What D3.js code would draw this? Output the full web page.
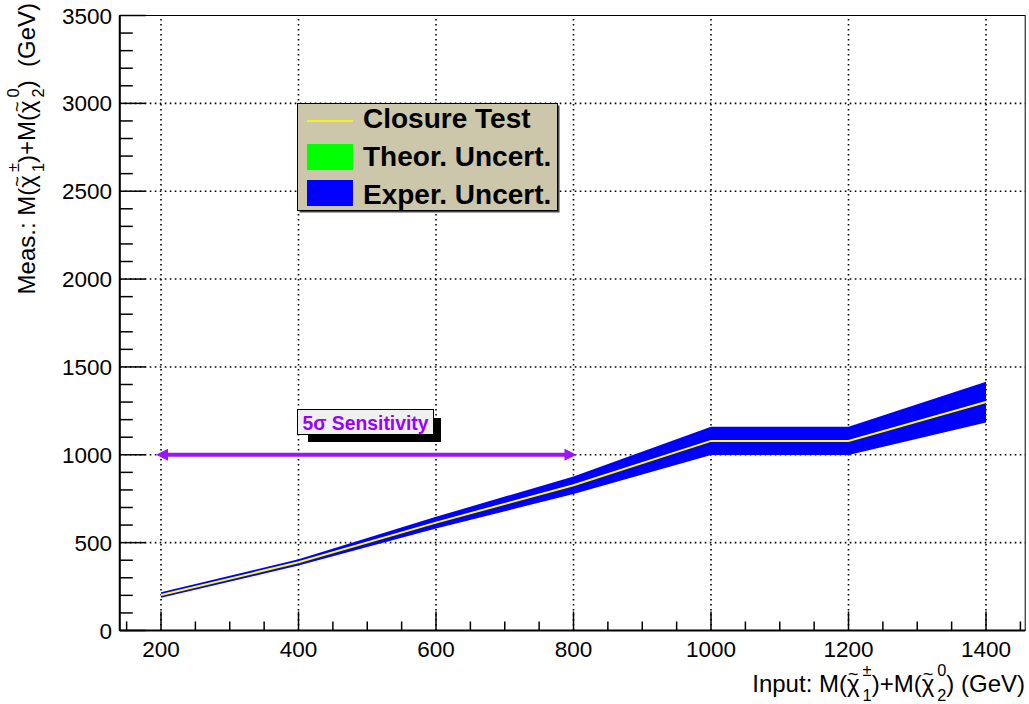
<!DOCTYPE html>
<html>
<head>
<meta charset="utf-8">
<script src="https://cdn.jsdelivr.net/npm/d3@7"></script>
<style>
  body { margin: 0; background: #fff; }
  text { font-family: "Liberation Sans", Arial, Helvetica, sans-serif; }
</style>
</head>
<body>
<script>
// input masses (GeV)
const inputMass = [200, 400, 600, 800, 1000, 1200, 1400];
// closure test: measured mass
const measMass = [202, 388, 614, 827, 1079, 1079, 1300];
// experimental uncertainty (half width)
const experUnc = [15, 18, 33, 50, 80, 80, 116];
// theoretical uncertainty (half width)
const theorUnc = [8, 10, 15, 22, 35, 35, 50];
// 5 sigma sensitivity range
const sensRange = [200, 800];
const sensLevel = 1000;

const xTicks = [200, 400, 600, 800, 1000, 1200, 1400];
const yTicks = [0, 500, 1000, 1500, 2000, 2500, 3000, 3500];
const legendLabels = ["Closure Test", "Theor. Uncert.", "Exper. Uncert."];

init();

function init() {
  let width = 1029, height = 704;
  let svg = d3.select("body").append("svg")
              .attr("width", width)
              .attr("height", height);

  let x = d3.scaleLinear().domain([140, 1457]).range([119.75, 1025.2]);
  let y = d3.scaleLinear().domain([0, 3500]).range([630.5, 15.5]);

  let data = inputMass.map((m, i) => ({m: m, v: measMass[i], e: experUnc[i], t: theorUnc[i]}));

  // grid
  let grid = svg.append("g").attr("stroke", "#000").attr("stroke-width", 1.6)
                .attr("stroke-dasharray", "1.6,3.4");
  xTicks.forEach(t => {
    grid.append("line").attr("x1", x(t)).attr("x2", x(t)).attr("y1", y(0)).attr("y2", y(3500));
  });
  yTicks.slice(1, -1).forEach(t => {
    grid.append("line").attr("x1", x(140)).attr("x2", x(1457)).attr("y1", y(t)).attr("y2", y(t));
  });

  // bands
  let area = (key) => d3.area().x(d => x(d.m)).y0(d => y(d.v - d[key])).y1(d => y(d.v + d[key]));
  svg.append("path").datum(data).attr("d", area("e")).attr("fill", "#0000ff");
  svg.append("path").datum(data).attr("d", area("t")).attr("fill", "#00ff00").attr("opacity", 0);
  svg.append("path").datum(data)
     .attr("d", d3.line().x(d => x(d.m)).y(d => y(d.v)))
     .attr("fill", "none").attr("stroke", "#ffff00").attr("stroke-width", 2);

  // frame
  svg.append("rect").attr("x", x(140)).attr("y", y(3500))
     .attr("width", x(1457) - x(140)).attr("height", y(0) - y(3500))
     .attr("fill", "none").attr("stroke", "#000").attr("stroke-width", 1);
  svg.append("line").attr("x1", x(140)).attr("x2", x(1457)).attr("y1", y(0)).attr("y2", y(0))
     .attr("stroke", "#000").attr("stroke-width", 2);
  svg.append("line").attr("x1", x(140)).attr("x2", x(140)).attr("y1", y(0)).attr("y2", y(3500))
     .attr("stroke", "#000").attr("stroke-width", 2);

  // axes with inward ticks
  let ax = svg.append("g").attr("stroke", "#000").attr("stroke-width", 1.5);
  d3.range(0, 3501, 100).forEach(t => {
    let len = (t % 500 === 0) ? 26 : 13;
    ax.append("line").attr("x1", x(140)).attr("x2", x(140) + len).attr("y1", y(t)).attr("y2", y(t));
  });
  d3.range(150, 1451, 50).forEach(t => {
    let len = (t % 200 === 0) ? 19 : 9;
    ax.append("line").attr("x1", x(t)).attr("x2", x(t)).attr("y1", y(0)).attr("y2", y(0) - len);
  });

  svg.append("g").selectAll("text").data(yTicks).join("text")
     .attr("x", 112).attr("y", d => y(d) + 8)
     .attr("text-anchor", "end").attr("font-size", 22.5).text(d => d);
  svg.append("g").selectAll("text").data(xTicks).join("text")
     .attr("x", d => x(d)).attr("y", 657)
     .attr("text-anchor", "middle").attr("font-size", 22.5).text(d => d);

  // axis titles
  let xg = svg.append("g");
  let wx = chiTitle(xg, "Input: ", " (GeV)", 24);
  xg.attr("transform", `translate(${1025 - wx},692)`);
  let yg = svg.append("g");
  let wy = chiTitle(yg, "Meas.: ", "  (GeV)", 24);
  yg.attr("transform", `translate(35,${3 + wy}) rotate(-90)`);

  // sensitivity arrow
  let sy = y(sensLevel), sx0 = x(sensRange[0]) - 5, sx1 = x(sensRange[1]) + 3;
  let purple = "#9a14ff";
  svg.append("line").attr("x1", sx0 + 8).attr("x2", sx1 - 8).attr("y1", sy).attr("y2", sy)
     .attr("stroke", purple).attr("stroke-width", 4);
  svg.append("path").attr("d", `M${sx0},${sy}L${sx0 + 12},${sy - 6}L${sx0 + 12},${sy + 6}Z`).attr("fill", purple);
  svg.append("path").attr("d", `M${sx1},${sy}L${sx1 - 12},${sy - 6}L${sx1 - 12},${sy + 6}Z`).attr("fill", purple);

  // sensitivity label box
  svg.append("rect").attr("x", 308).attr("y", 418).attr("width", 133).attr("height", 24).attr("fill", "#000");
  svg.append("rect").attr("x", 297.5).attr("y", 409.5).attr("width", 136).attr("height", 25)
     .attr("fill", "#f0f0f0").attr("stroke", "#000").attr("stroke-width", 1);
  svg.append("text").attr("x", 365.5).attr("y", 430).attr("text-anchor", "middle")
     .attr("font-size", 20).attr("font-weight", "bold").attr("fill", "#9900ff")
     .attr("textLength", 126).attr("lengthAdjust", "spacingAndGlyphs")
     .text("5σ Sensitivity");

  // legend
  let lg = svg.append("g");
  lg.append("rect").attr("x", 299.5).attr("y", 105.5).attr("width", 260).attr("height", 107).attr("fill", "#444");
  lg.append("rect").attr("x", 297.5).attr("y", 103.5).attr("width", 260).attr("height", 107)
    .attr("fill", "#ccc6aa").attr("stroke", "#000").attr("stroke-width", 1);
  lg.append("line").attr("x1", 307).attr("x2", 353).attr("y1", 121).attr("y2", 121)
    .attr("stroke", "#ffff00").attr("stroke-width", 1.5);
  lg.append("rect").attr("x", 307).attr("y", 144).attr("width", 46).attr("height", 26).attr("fill", "#00ff00");
  lg.append("rect").attr("x", 307).attr("y", 180).attr("width", 46).attr("height", 26).attr("fill", "#0000ff");
  lg.selectAll("text.lab").data(legendLabels).join("text")
    .attr("x", 363).attr("y", (d, i) => 128 + i * 38)
    .attr("font-size", 28).attr("font-weight", "bold").text(d => d);
}

// builds "prefix M(chi~1±)+M(chi~2 0) suffix" piece by piece, returns total width
function chiTitle(g, prefix, suffix, fs) {
  let cx = 0;
  let sfs = fs * 0.68;
  let put = (txt, size, dy) => {
    let t = g.append("text").attr("x", cx).attr("y", dy || 0).attr("font-size", size)
             .attr("xml:space", "preserve").style("white-space", "pre").text(txt);
    return t.node().getComputedTextLength();
  };
  let chi = (sup, sub) => {
    let w = put("χ", fs, 0);
    g.append("text").attr("x", cx + w / 2).attr("y", -fs * 0.52)
     .attr("font-size", fs * 0.75).attr("text-anchor", "middle").text("~");
    cx += w + 3;
    let w1 = put(sup, sfs, -fs * 0.66);
    let w2 = put(sub, sfs, fs * 0.39);
    cx += Math.max(w1, w2);
  };
  cx += put(prefix + "M(", fs);
  chi("±", "1");
  cx += put(")+M(", fs);
  chi("0", "2");
  cx += put(")" + suffix, fs);
  return cx;
}
</script>
</body>
</html>
